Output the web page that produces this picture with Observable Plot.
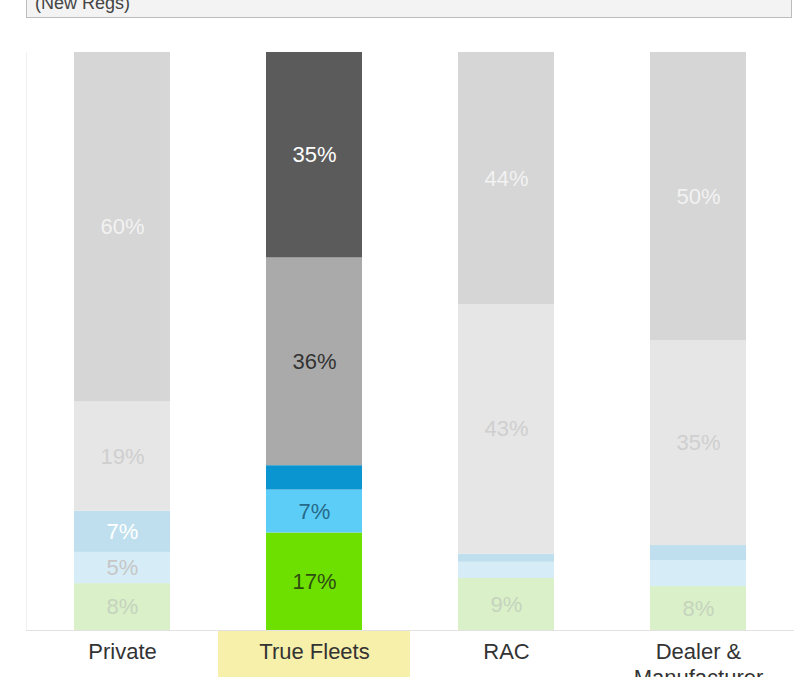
<!DOCTYPE html>
<html>
<head>
<meta charset="utf-8">
<script src="https://cdn.jsdelivr.net/npm/d3@7"></script>
<script src="https://cdn.jsdelivr.net/npm/@observablehq/plot@0.6"></script>
<style>
  html, body { margin: 0; padding: 0; background: #fff; width: 794px; height: 677px; overflow: hidden; }
  #header { position: relative; margin-left: 26px; width: 766px; height: 18px; box-sizing: border-box;
    background: #f3f3f3; border: 1px solid #bcbcbc; border-top: none; overflow: hidden; }
  #header span { position: absolute; left: 8px; top: -6px; font: 18px "Liberation Sans", Arial, sans-serif; color: #444; line-height: 18px; white-space: nowrap; }
  #chart svg { display: block; }
</style>
</head>
<body>
<div id="header"><span>(New Regs)</span></div>
<div id="chart"></div>
<script>
// ---- data ----
const categories = ["Private", "True Fleets", "RAC", "Dealer & Manufacturer"];
const tickLabels = ["Private", "True Fleets", "RAC", "Dealer &\nManufacturer"];
// stack order, bottom to top
const seriesNames = ["Series 5", "Series 4", "Series 3", "Series 2", "Series 1"];
const privateValues    = [8.1, 5.4, 7.1, 18.9, 60.4];
const trueFleetsValues = [16.8, 7.4, 4.2, 35.8, 35.4];
const racValues        = [9.0, 2.8, 1.4, 43.2, 43.6];
const dealerValues     = [7.6, 4.5, 2.6, 35.4, 49.9];
const highlighted = "True Fleets";

// ---- styles ----
const fullFill  = {"Series 1": "#5b5b5b", "Series 2": "#aaaaaa", "Series 3": "#0a95d0", "Series 4": "#5ccdf6", "Series 5": "#6ee000"};
const fadedFill = {"Series 1": "#d6d6d6", "Series 2": "#e6e6e6", "Series 3": "#c0dfee", "Series 4": "#d6edf7", "Series 5": "#d9f0c9"};
const fullText  = {"Series 1": "#ffffff", "Series 2": "#333333", "Series 3": "#ffffff", "Series 4": "#26698a", "Series 5": "#2e4d10"};
const fadedText = {"Series 1": "#f2f2f2", "Series 2": "#cfcfcf", "Series 3": "#ffffff", "Series 4": "#c6c6c6", "Series 5": "#c6d4bd"};

const valueSets = [privateValues, trueFleetsValues, racValues, dealerValues];
const data = [];
categories.forEach((c, i) => {
  seriesNames.forEach((s, j) => data.push({category: c, series: s, value: valueSets[i][j]}));
});

const font = '"Liberation Sans", Arial, sans-serif';
const stackOpts = {offset: "normalize", order: seriesNames};

const chart = Plot.plot({
  width: 794,
  height: 659,
  marginTop: 34,
  marginBottom: 47,
  marginLeft: 26,
  marginRight: 0,
  style: {fontFamily: font, background: "transparent"},
  x: {domain: categories, padding: 0, label: null},
  y: {axis: null, domain: [0, 1]},
  color: {type: "identity"},
  marks: [
    Plot.frame({anchor: "left", stroke: "#f0f0f0"}),
    Plot.barY(data, Plot.stackY(stackOpts, {
      x: "category", y: "value", z: "series",
      fill: d => d.category === highlighted ? fullFill[d.series] : fadedFill[d.series],
      insetLeft: 48, insetRight: 48
    })),
    Plot.text(data, Plot.stackY(stackOpts, {
      x: "category", y: "value", z: "series",
      text: d => d.value >= 5 ? `${Math.round(d.value)}%` : "",
      fill: d => d.category === highlighted ? fullText[d.series] : fadedText[d.series],
      fontSize: 22
    })),
    Plot.ruleY([0], {stroke: "#e2e2e2"}),
    Plot.axisX({
      tickSize: 0, tickPadding: 11, fontSize: 22, lineHeight: 1.15, color: "#333", label: null,
      tickFormat: d => tickLabels[categories.indexOf(d)]
    })
  ]
});

document.getElementById("chart").appendChild(chart);

// yellow highlight behind the highlighted category label, placed with the x scale
const xs = chart.scale("x");
const svg = d3.select(chart.tagName.toLowerCase() === "svg" ? chart : chart.querySelector("svg"));
svg.insert("rect", ":first-child")
  .attr("x", xs.apply(highlighted))
  .attr("width", xs.bandwidth)
  .attr("y", 659 - 47)
  .attr("height", 47)
  .attr("fill", "#f6f0aa");
</script>
</body>
</html>
